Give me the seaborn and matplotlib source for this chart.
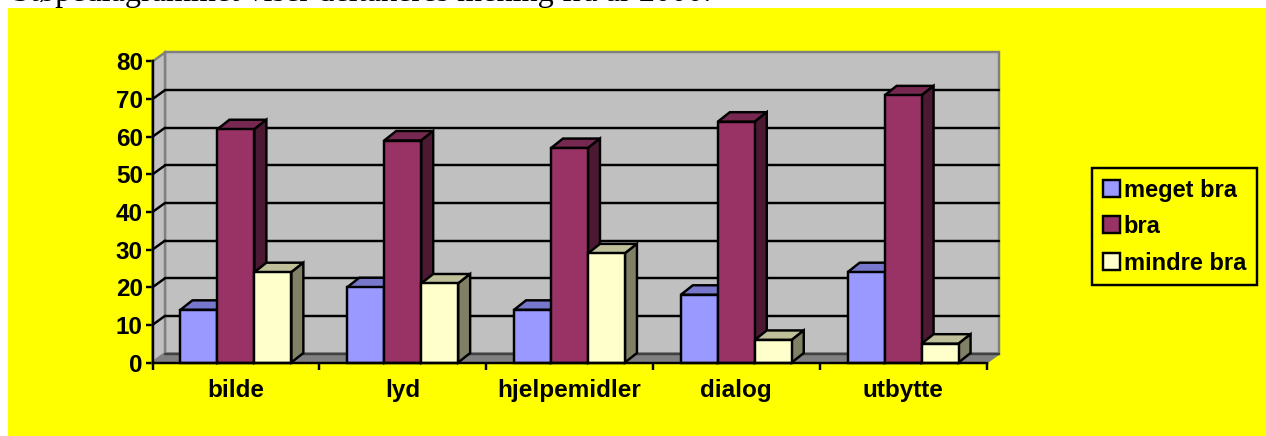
from matplotlib import pyplot as plt
from matplotlib.patches import Polygon, Rectangle
import pandas as pd
import seaborn as sns

categories = ['bilde', 'lyd', 'hjelpemidler', 'dialog', 'utbytte']
series_names = ['meget bra', 'bra', 'mindre bra']
meget_bra = [14, 20, 14, 18, 24]
bra = [62, 59, 57, 64, 71]
mindre_bra = [24, 21, 29, 6, 5]
y_ticks = [0, 10, 20, 30, 40, 50, 60, 70, 80]
caption = 'Støpediagrammet viser deltakeres mening fra år 2000.'

front_colors = ['#9999FF', '#993366', '#FFFFCC']
top_colors = ['#7777CC', '#772850', '#BFBF99']
side_colors = ['#4C4C80', '#4C1933', '#808066']

W, H = 1266, 436
LW = 1.75

df = pd.DataFrame({'category': categories, 'meget bra': meget_bra, 'bra': bra, 'mindre bra': mindre_bra})
df = df.melt(id_vars='category', var_name='series', value_name='value')

sns.set_style('white')
plt.rcParams['font.family'] = ['Liberation Sans', 'DejaVu Sans']
plt.rcParams['font.weight'] = 'bold'
plt.rcParams['text.color'] = 'black'

fig = plt.figure(figsize=(W / 100, H / 100), dpi=100, facecolor='white')
fig.patches.append(Rectangle((8 / W, 0), 1, 1 - 8 / H, transform=fig.transFigure, facecolor='#FFFF00', edgecolor='none', zorder=-5))
fig.text(12 / W, 1 - 1.5 / H, caption, family='Liberation Serif', fontweight='normal', fontsize=23.2, color='black', va='baseline')

# front plane of the 3D box, in pixels: x 152.5-986.5, y 61.5-362.5
ax = fig.add_axes([152.5 / W, 1 - 362.5 / H, 834 / W, 301 / H])
ax.patch.set_alpha(0)

sns.barplot(data=df, x='category', y='value', hue='series', hue_order=series_names, order=categories,
            palette=front_colors, width=0.665, gap=0, saturation=1, edgecolor='black', linewidth=LW, ax=ax)
ax.set_xlim(-0.5, 4.5)
ax.set_ylim(0, 80)

# depth of the box and of the bars, in data units
x_unit = 834 / 5
y_unit = 301 / 80
wall_dx, wall_dy = 12.5 / x_unit, 9 / y_unit
bar_dx, bar_dy = 12 / x_unit, 9.5 / y_unit

x0, x1 = -0.5, 4.5
wall_kw = dict(clip_on=False, joinstyle='miter')
ax.add_patch(Polygon([(x0 + wall_dx, wall_dy), (x1 + wall_dx, wall_dy), (x1 + wall_dx, 80 + wall_dy), (x0 + wall_dx, 80 + wall_dy)],
                     facecolor='#C0C0C0', edgecolor='#808080', linewidth=LW, zorder=0.5, **wall_kw))
ax.add_patch(Polygon([(x0, 0), (x0 + wall_dx, wall_dy), (x0 + wall_dx, 80 + wall_dy), (x0, 80)],
                     facecolor='#C0C0C0', edgecolor='#808080', linewidth=LW, zorder=0.6, **wall_kw))
ax.add_patch(Polygon([(x0, 0), (x1, 0), (x1 + wall_dx, wall_dy), (x0 + wall_dx, wall_dy)],
                     facecolor='#808080', edgecolor='#808080', linewidth=LW, zorder=0.6, **wall_kw))

for t in y_ticks[1:-1]:
    ax.plot([x0, x0 + wall_dx], [t, t + wall_dy], color='black', linewidth=LW, zorder=0.8, clip_on=False)
    ax.plot([x0 + wall_dx, x1 + wall_dx], [t + wall_dy, t + wall_dy], color='black', linewidth=LW, zorder=0.8, clip_on=False)
ax.plot([x0 + wall_dx, x1 + wall_dx], [wall_dy, wall_dy], color='#404040', linewidth=LW, zorder=0.8, clip_on=False)

# bars go left to right, so each one covers the depth faces of the one before
bars = []
for container, top_c, side_c in zip(ax.containers, top_colors, side_colors):
    for bar in container:
        bars.append((bar, top_c, side_c))
bars.sort(key=lambda b: b[0].get_x())

for i, (bar, top_c, side_c) in enumerate(bars):
    z = 2 + i * 0.01
    left, right, h = bar.get_x(), bar.get_x() + bar.get_width(), bar.get_height()
    bar.set_zorder(z + 0.005)
    bar.set_clip_on(False)
    bar.set_joinstyle('miter')
    ax.add_patch(Polygon([(left, h), (right, h), (right + bar_dx, h + bar_dy), (left + bar_dx, h + bar_dy)],
                         facecolor=top_c, edgecolor='black', linewidth=LW, zorder=z, clip_on=False))
    ax.add_patch(Polygon([(right, 0), (right + bar_dx, bar_dy), (right + bar_dx, h + bar_dy), (right, h)],
                         facecolor=side_c, edgecolor='black', linewidth=LW, zorder=z, clip_on=False))

sns.despine(ax=ax, top=True, right=True)
for side in ['left', 'bottom']:
    ax.spines[side].set_color('black')
    ax.spines[side].set_linewidth(LW)
    ax.spines[side].set_zorder(3)

ax.set_xlabel('')
ax.set_ylabel('')
ax.set_yticks(y_ticks)
ax.set_xticks(range(len(categories)))
ax.set_xticklabels(categories)
ax.set_xticks([-0.5, 0.5, 1.5, 2.5, 3.5, 4.5], minor=True)
ax.tick_params(axis='x', which='major', length=0, pad=12, labelsize=17.5, labelcolor='black')
ax.tick_params(axis='x', which='minor', length=5, width=LW, color='black', bottom=True)
ax.tick_params(axis='y', which='major', length=5, width=LW, color='black', left=True, pad=2, labelsize=17.5, labelcolor='black')
for lab in ax.get_xticklabels() + ax.get_yticklabels():
    lab.set_fontweight('bold')

# legend box: x 1092-1258, y 168-283
handles, labels = ax.get_legend_handles_labels()
leg = ax.legend(handles, labels, loc='upper left', bbox_to_anchor=(1092 / W, 1 - 168 / H), bbox_transform=fig.transFigure,
                frameon=True, fancybox=False, facecolor='#FFFF00', edgecolor='black', framealpha=1,
                borderaxespad=0, borderpad=0.45, labelspacing=0.57, handlelength=0.75, handleheight=0.75,
                handletextpad=0.15, labelcolor='black', prop={'family': 'Liberation Sans', 'weight': 'bold', 'size': 17})
leg.get_frame().set_linewidth(LW)
leg.set_zorder(5)

fig.savefig('out.png', dpi=100)
